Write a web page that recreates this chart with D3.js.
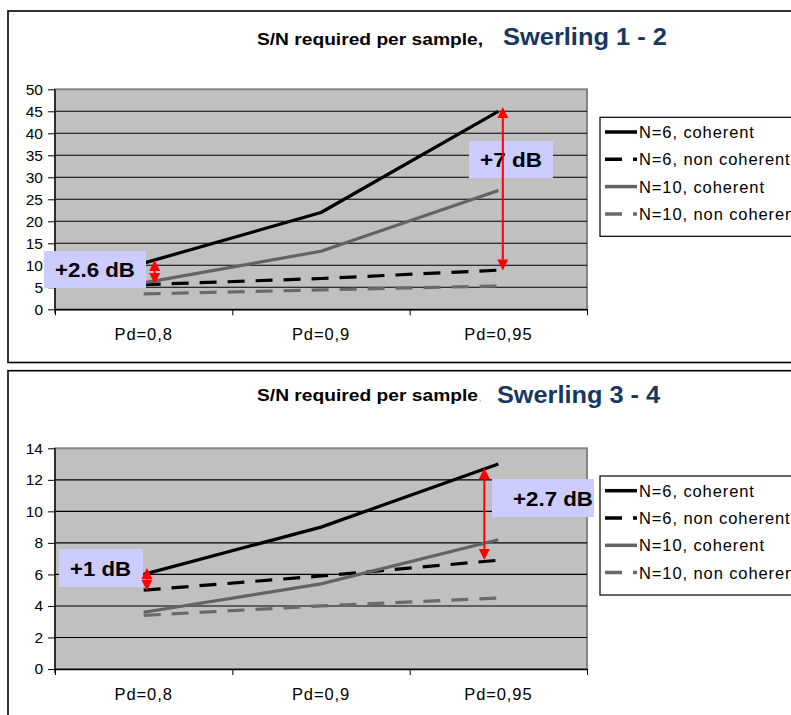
<!DOCTYPE html>
<html>
<head>
<meta charset="utf-8">
<script src="https://cdn.jsdelivr.net/npm/d3@7"></script>
<style>
  html, body { margin: 0; padding: 0; background: #fff; }
  svg { display: block; font-family: "Liberation Sans", Arial, sans-serif; }
</style>
</head>
<body>
<svg id="chart" width="791" height="715"></svg>
<script>
// ---- data ----
const categories = ["Pd=0,8", "Pd=0,9", "Pd=0,95"];
const seriesNames = ["N=6, coherent", "N=6, non coherent", "N=10, coherent", "N=10, non coherent"];

// Swerling 1 - 2 : S/N required per sample
const sw12N6Coherent = [10.5, 22, 45];
const sw12N6NonCoherent = [5.6, 7, 8.9];
const sw12N10Coherent = [6, 13.2, 27];
const sw12N10NonCoherent = [3.5, 4.4, 5.3];
const sw12Ticks = [0, 5, 10, 15, 20, 25, 30, 35, 40, 45, 50];

// Swerling 3 - 4 : S/N required per sample
const sw34N6Coherent = [6, 9, 13];
const sw34N6NonCoherent = [5, 5.9, 6.9];
const sw34N10Coherent = [3.6, 5.4, 8.2];
const sw34N10NonCoherent = [3.4, 4.0, 4.5];
const sw34Ticks = [0, 2, 4, 6, 8, 10, 12, 14];

// gain callouts: [category index, upper value, lower value, text]
const sw12Callouts = [[0, 11.2, 5.75, "+2.6 dB"], [2, 46, 8.8, "+7 dB"]];
const sw34Callouts = [[0, 6.4, 4.97, "+1 dB"], [2, 12.75, 6.92, "+2.7 dB"]];

// ---- styles per series ----
const seriesStyle = [
  { color: "#000000", dash: null },
  { color: "#000000", dash: "17,11" },
  { color: "#636363", dash: null },
  { color: "#6a6a6a", dash: "17,11" }
];

const svg = d3.select("#chart");

function drawPanel(cfg) {
  const g = svg.append("g");
  const { frame, plot } = cfg;

  // outer frame
  g.append("rect")
    .attr("x", frame.x).attr("y", frame.y)
    .attr("width", frame.w).attr("height", frame.h)
    .attr("fill", "#fff").attr("stroke", "#000").attr("stroke-width", 1.6);

  // titles
  g.append("text")
    .attr("x", cfg.titleX).attr("y", cfg.titleY)
    .attr("font-size", 17).attr("font-weight", "bold").attr("fill", "#000")
    .attr("textLength", cfg.titleLen).attr("lengthAdjust", "spacingAndGlyphs")
    .text(cfg.title);
  if (cfg.titleTail) {
    g.append("text")
      .attr("x", cfg.titleX + cfg.titleLen + 1).attr("y", cfg.titleY)
      .attr("font-size", 9).attr("fill", "#aaa").text(cfg.titleTail);
  }
  g.append("text")
    .attr("x", cfg.subX).attr("y", cfg.subY)
    .attr("font-size", 24).attr("font-weight", "bold").attr("fill", "#17375e")
    .attr("textLength", cfg.subLen).attr("lengthAdjust", "spacingAndGlyphs")
    .text(cfg.subtitle);

  // scales
  const x = d3.scaleBand().domain(categories).range([plot.left, plot.right]);
  const xEdge = d3.scaleLinear().domain([0, categories.length]).range([plot.left, plot.right]);
  const y = d3.scaleLinear().domain([0, d3.max(cfg.ticks)]).range([plot.bottom, plot.top]);
  const cx = c => x(c) + x.bandwidth() / 2;

  // plot area
  g.append("rect")
    .attr("x", plot.left).attr("y", plot.top)
    .attr("width", plot.right - plot.left).attr("height", plot.bottom - plot.top)
    .attr("fill", "#c0c0c0").attr("stroke", "#858585").attr("stroke-width", 2);

  // gridlines
  g.append("g").selectAll("line")
    .data(cfg.ticks.filter(t => t > 0 && t < d3.max(cfg.ticks)))
    .join("line")
    .attr("x1", plot.left).attr("x2", plot.right)
    .attr("y1", d => y(d)).attr("y2", d => y(d))
    .attr("stroke", "#000").attr("stroke-width", 1.1);

  // y axis
  const yAxis = g.append("g")
    .attr("transform", `translate(${plot.left},0)`)
    .call(d3.axisLeft(y).tickValues(cfg.ticks).tickSize(7).tickSizeOuter(0).tickPadding(5));
  yAxis.select(".domain").attr("stroke", "#000").attr("stroke-width", 1.3)
    .attr("d", `M0,${plot.top}V${plot.bottom + 4}`);
  yAxis.selectAll(".tick line").attr("stroke", "#000");
  yAxis.selectAll("text").attr("font-size", 15.5).attr("fill", "#000")
    .attr("font-family", "Liberation Sans, Arial, sans-serif");

  // x axis : boundary tick marks
  const xTicks = g.append("g")
    .attr("transform", `translate(0,${plot.bottom})`)
    .call(d3.axisBottom(xEdge).tickValues(d3.range(categories.length + 1))
      .tickFormat("").tickSize(6).tickSizeOuter(0));
  xTicks.select(".domain").attr("stroke", "#000").attr("stroke-width", 1.6);
  xTicks.selectAll(".tick line").attr("stroke", "#000");

  // x axis : category labels
  const xLabels = g.append("g")
    .attr("transform", `translate(0,${plot.bottom})`)
    .call(d3.axisBottom(x).tickSize(0).tickPadding(19));
  xLabels.select(".domain").remove();
  xLabels.selectAll("text").attr("font-size", 16.5).attr("fill", "#000")
    .attr("letter-spacing", 0.9)
    .attr("font-family", "Liberation Sans, Arial, sans-serif");

  // series lines
  const line = d3.line().x((d, i) => cx(categories[i])).y(d => y(d));
  cfg.series.forEach((vals, k) => {
    g.append("path")
      .attr("d", line(vals))
      .attr("fill", "none")
      .attr("stroke", seriesStyle[k].color)
      .attr("stroke-width", 3.2)
      .attr("stroke-dasharray", seriesStyle[k].dash)
      .attr("stroke-linejoin", "round");
  });

  // callouts: label box and red double arrow
  cfg.callouts.forEach(([ci, hi, lo, label], k) => {
    const b = cfg.boxes[k];
    g.append("rect")
      .attr("x", b.x).attr("y", b.y).attr("width", b.w).attr("height", b.h)
      .attr("fill", "#ccccff");
    g.append("text")
      .attr("x", b.tx).attr("y", b.y + b.h / 2 + 7.5)
      .attr("font-size", 21).attr("font-weight", "bold").attr("fill", "#000")
      .attr("textLength", b.tl).attr("lengthAdjust", "spacingAndGlyphs")
      .text(label);

    const ax = cx(categories[ci]) + b.ax;
    const y1 = y(hi), y2 = y(lo);
    const head = Math.min(11, (y2 - y1) / 2);
    const hw = 5.5;
    g.append("line")
      .attr("x1", ax).attr("x2", ax)
      .attr("y1", y1 + head).attr("y2", y2 - head)
      .attr("stroke", "#ff0000").attr("stroke-width", 2);
    g.append("path")
      .attr("d", `M${ax},${y1}L${ax - hw},${y1 + head}L${ax + hw},${y1 + head}Z`)
      .attr("fill", "#ff0000");
    g.append("path")
      .attr("d", `M${ax},${y2}L${ax - hw},${y2 - head}L${ax + hw},${y2 - head}Z`)
      .attr("fill", "#ff0000");
  });

  // legend
  const lg = g.append("g");
  lg.append("rect")
    .attr("x", cfg.legend.x).attr("y", cfg.legend.y)
    .attr("width", 260).attr("height", 119)
    .attr("fill", "#fff").attr("stroke", "#000").attr("stroke-width", 1.2);
  seriesNames.forEach((name, k) => {
    const yy = cfg.legend.y + 14.7 + k * 27.3;
    lg.append("line")
      .attr("x1", cfg.legend.x + 5).attr("x2", cfg.legend.x + 37)
      .attr("y1", yy).attr("y2", yy)
      .attr("stroke", seriesStyle[k].color).attr("stroke-width", 3.5)
      .attr("stroke-dasharray", seriesStyle[k].dash);
    lg.append("text")
      .attr("x", cfg.legend.x + 39).attr("y", yy + 6)
      .attr("font-size", 16.5).attr("fill", "#000").attr("letter-spacing", 0.9)
      .text(name);
  });
}

drawPanel({
  frame: { x: 8, y: 11, w: 800, h: 351.5 },
  plot: { left: 55, top: 89.3, right: 587, bottom: 309.3 },
  title: "S/N required per sample,", titleX: 257, titleY: 45, titleLen: 226,
  subtitle: "Swerling 1 - 2", subX: 503, subY: 45, subLen: 164,
  ticks: sw12Ticks,
  series: [sw12N6Coherent, sw12N6NonCoherent, sw12N10Coherent, sw12N10NonCoherent],
  callouts: sw12Callouts,
  boxes: [
    { x: 44, y: 251, w: 102, h: 37, tx: 55, tl: 80, ax: 11 },
    { x: 469, y: 141, w: 84, h: 37, tx: 480, tl: 62, ax: 4.5 }
  ],
  legend: { x: 600, y: 117.3 }
});

drawPanel({
  frame: { x: 8, y: 370.7, w: 800, h: 400 },
  plot: { left: 55, top: 448.3, right: 587, bottom: 669 },
  title: "S/N required per sample", titleTail: ",", titleX: 257, titleY: 401, titleLen: 221,
  subtitle: "Swerling 3 - 4", subX: 497, subY: 403, subLen: 163,
  ticks: sw34Ticks,
  series: [sw34N6Coherent, sw34N6NonCoherent, sw34N10Coherent, sw34N10NonCoherent],
  callouts: sw34Callouts,
  boxes: [
    { x: 59, y: 549, w: 84, h: 38, tx: 70, tl: 61, ax: 3.3 },
    { x: 492, y: 479, w: 102, h: 38, tx: 513, tl: 80, ax: -14 }
  ],
  legend: { x: 600, y: 476 }
});
</script>
</body>
</html>
